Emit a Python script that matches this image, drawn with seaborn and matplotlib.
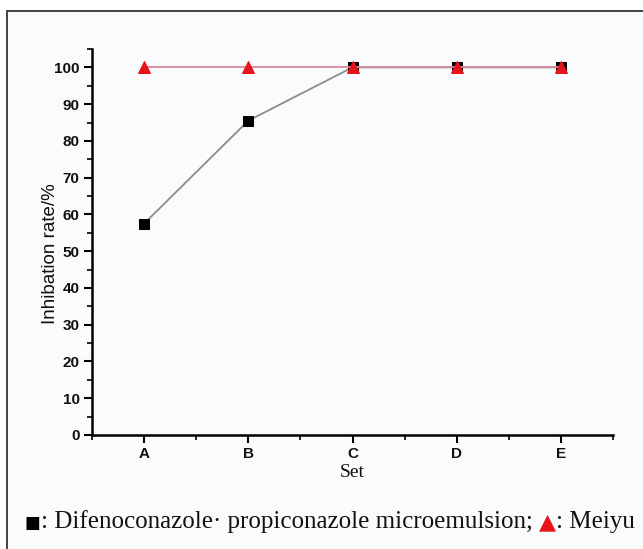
import matplotlib
matplotlib.use("Agg")
import matplotlib.pyplot as plt
import seaborn as sns
from matplotlib.patches import Rectangle
from matplotlib.ticker import FixedLocator, MultipleLocator

sets = ["A", "B", "C", "D", "E"]
difenoconazole = [57.5, 85.5, 100, 100, 100]
meiyu = [100, 100, 100, 100, 100]
y_ticks = [0, 10, 20, 30, 40, 50, 60, 70, 80, 90, 100]

sns.set_style("ticks")
plt.rcParams["font.family"] = ["Liberation Sans", "DejaVu Sans"]

W, H = 643, 549
fig = plt.figure(figsize=(W / 100, H / 100), dpi=100)
fig.patch.set_facecolor("white")
frame = Rectangle((7 / W, -0.05), 1.1, 1 - 11 / H + 0.05, transform=fig.transFigure,
                  facecolor="#fafbfd", edgecolor="#333333", linewidth=1.3, zorder=-10)
fig.patches.append(frame)

ax = fig.add_axes([92 / W, 114 / H, 521 / W, 386 / H])
ax.set_facecolor("none")

sns.lineplot(x=sets, y=difenoconazole, ax=ax, color="#8c8c8c", linewidth=1.3,
             marker="s", markersize=7, markerfacecolor="black", markeredgecolor="black",
             zorder=3)
sns.lineplot(x=sets, y=meiyu, ax=ax, color="#d88a96", linewidth=1.3,
             marker="^", markersize=9, markerfacecolor="#e8141c", markeredgecolor="#e8141c",
             zorder=4)

ax.set_xlim(-0.5, 4.5)
ax.set_ylim(0, 105)
ax.set_yticks(y_ticks)
ax.yaxis.set_minor_locator(MultipleLocator(5))
ax.xaxis.set_minor_locator(FixedLocator([-0.5, 0.5, 1.5, 2.5, 3.5, 4.5]))

for s in ["top", "right"]:
    ax.spines[s].set_visible(False)
for s in ["left", "bottom"]:
    ax.spines[s].set_linewidth(1.8)
    ax.spines[s].set_color("black")

ax.tick_params(which="major", direction="out", length=6, width=1.5, color="black",
               labelsize=11, pad=3)
ax.tick_params(which="minor", direction="out", length=3.5, width=1.2, color="black")
for lab in ax.get_xticklabels() + ax.get_yticklabels():
    lab.set_fontweight("bold")
    lab.set_color("#111111")

ax.set_ylabel("Inhibation rate/%", fontsize=13.5, family=["Liberation Sans"], color="#111111")
ax.yaxis.set_label_coords(-0.064, 0.47)
ax.set_xlabel("Set", fontsize=14, family=["Liberation Serif"], labelpad=2, color="#111111")

# caption built from pieces
fig.canvas.draw()
renderer = fig.canvas.get_renderer()
pieces = [
    ("\u25a0", "black", ["DejaVu Sans"], 12),
    (": Difenoconazole\u00b7 propiconazole microemulsion; ", "#111111", ["Liberation Serif"], 18),
    ("\u25b2", "#e8141c", ["DejaVu Sans"], 16),
    (": Meiyu", "#111111", ["Liberation Serif"], 18),
]
x = 25
yb = (H - 528) / H
for txt, col, fam, fs in pieces:
    t = fig.text(x / W, yb, txt, color=col, family=fam, fontsize=fs, va="baseline", ha="left")
    bb = t.get_window_extent(renderer=renderer)
    x = bb.x1

fig.savefig("out.png", dpi=100)
